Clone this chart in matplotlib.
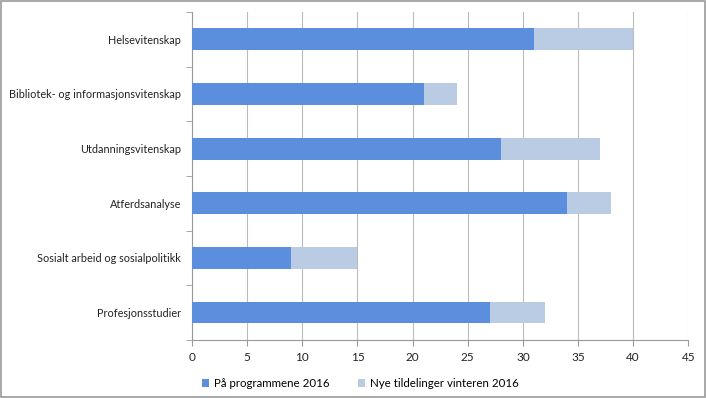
import matplotlib.pyplot as plt
import numpy as np

categories = ["Helsevitenskap", "Bibliotek- og informasjonsvitenskap", "Utdanningsvitenskap",
              "Atferdsanalyse", "Sosialt arbeid og sosialpolitikk", "Profesjonsstudier"]
on_program = [31, 21, 28, 34, 9, 27]
new_awards = [9, 3, 9, 4, 6, 5]
series_names = ["På programmene 2016", "Nye tildelinger vinteren 2016"]
xticks = [0, 5, 10, 15, 20, 25, 30, 35, 40, 45]

plt.rcParams['font.family'] = ['Lato', 'DejaVu Sans']

fig = plt.figure(figsize=(7.06, 3.98), dpi=100)
ax = fig.add_axes([0.272, 0.146, 0.703, 0.824])

y = np.arange(len(categories))[::-1]
ax.barh(y, on_program, height=0.4, color="#5b8fde", label=series_names[0], zorder=3)
ax.barh(y, new_awards, left=on_program, height=0.4, color="#b9cce4", label=series_names[1], zorder=3)

ax.set_xlim(0, 45)
ax.set_ylim(-0.5, len(categories) - 0.5)
ax.set_xticks(xticks)
ax.set_yticks(y)
ax.set_yticklabels(categories)
ax.set_yticks(np.arange(-0.5, len(categories), 1), minor=True)
ax.tick_params(axis='y', which='major', length=0, pad=8, labelsize=7.8, colors="#222222")
ax.tick_params(axis='y', which='minor', length=4, color="#999999")
ax.tick_params(axis='x', length=4, color="#999999", labelsize=8.5, colors="#222222", pad=5)
ax.grid(axis='x', color="#bbbbbb", linewidth=0.8, zorder=0)
for s in ["top", "right"]:
    ax.spines[s].set_visible(False)
ax.spines["left"].set_color("#999999")
ax.spines["bottom"].set_color("#999999")

ax.legend(loc="upper left", bbox_to_anchor=(0.0, -0.085), ncol=2, frameon=False,
          fontsize=8.3, handlelength=0.6, handleheight=0.6, columnspacing=2.5, handletextpad=0.4)

fig.patches.append(plt.Rectangle((0.001, 0.002), 0.997, 0.996, transform=fig.transFigure,
                                 fill=False, edgecolor="#999999", linewidth=1.2))

fig.savefig("out.png", dpi=100)
